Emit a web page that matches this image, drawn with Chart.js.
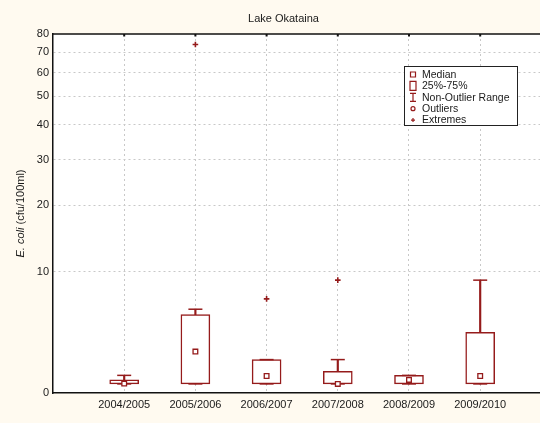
<!DOCTYPE html>
<html>
<head>
<meta charset="utf-8">
<script src="https://cdn.jsdelivr.net/npm/chart.js@4.4.1/dist/chart.umd.min.js"></script>
<style>
  html, body { margin: 0; padding: 0; background: #fffaf0; }
</style>
</head>
<body>
<canvas id="grafico" width="540" height="423"></canvas>
<script>
const seasons = ["2004/2005", "2005/2006", "2006/2007", "2007/2008", "2008/2009", "2009/2010"];
const minimum = [0.5, 0.5, 0.5, 0.5, 0.5, 0.5];
const lowerQuartile = [0.5, 0.5, 0.5, 0.5, 0.5, 0.5];
const median = [0.52, 2.55, 0.96, 0.5, 0.73, 0.96];
const upperQuartile = [0.74, 5.5, 2.0, 1.24, 1.0, 4.0];
const maximum = [1.0, 6.0, 2.0, 2.0, 1.0, 9.0];
// extremes: index of the season and the value
const extremeSeason = [1, 2, 3];
const extremeValue = [74, 7, 9];
const yTicks = [0, 10, 20, 30, 40, 50, 60, 70, 80];

// the value axis is log(x + 8)
const tf = (v) => Math.log10(v + 8);
const pos = seasons.map((s, i) => i + 1);
const red = "#951b1b";
const fontFamily = "'Liberation Sans', Arial, sans-serif";

Chart.defaults.font.family = fontFamily;
Chart.defaults.font.size = 11;
Chart.defaults.color = "#1a1a1a";

const frame = {
  id: "frame",
  beforeDraw(chart) {
    const { ctx, chartArea: a } = chart;
    ctx.save();
    ctx.fillStyle = "#fffaf0";
    ctx.fillRect(0, 0, chart.width, chart.height);
    ctx.fillStyle = "#ffffff";
    ctx.fillRect(a.left, a.top, a.right - a.left, a.bottom - a.top);
    ctx.restore();
  },
  afterDraw(chart) {
    const { ctx, chartArea: a } = chart;
    ctx.save();
    // top frame line with small tick marks
    ctx.strokeStyle = "#111";
    ctx.lineWidth = 1.5;
    ctx.beginPath();
    ctx.moveTo(a.left, a.top);
    ctx.lineTo(a.right, a.top);
    ctx.stroke();
    const xs = chart.scales.x;
    ctx.lineWidth = 2;
    pos.forEach((p) => {
      const px = xs.getPixelForValue(p);
      ctx.beginPath();
      ctx.moveTo(px, a.top);
      ctx.lineTo(px, a.top + 2.5);
      ctx.stroke();
    });

    // title
    ctx.fillStyle = "#1a1a1a";
    ctx.font = "11px " + fontFamily;
    ctx.textAlign = "center";
    ctx.textBaseline = "middle";
    ctx.fillText("Lake Okataina", (a.left + a.right) / 2 - 13, 19);

    // y title, "E. coli" in italics
    ctx.save();
    ctx.translate(21, (a.top + a.bottom) / 2);
    ctx.rotate(-Math.PI / 2);
    const p1 = "E. coli", p2 = " (cfu/100ml)";
    ctx.font = "italic 11px " + fontFamily;
    const w1 = ctx.measureText(p1).width;
    ctx.font = "11px " + fontFamily;
    const w2 = ctx.measureText(p2).width;
    ctx.textAlign = "left";
    ctx.font = "italic 11px " + fontFamily;
    ctx.fillText(p1, -(w1 + w2) / 2, 0);
    ctx.font = "11px " + fontFamily;
    ctx.fillText(p2, -(w1 + w2) / 2 + w1, 0);
    ctx.restore();

    // legend
    const lx = a.left + 351, ly = a.top + 32, lw = 113, lh = 59;
    ctx.fillStyle = "#fff";
    ctx.fillRect(lx, ly, lw, lh);
    ctx.strokeStyle = "#222";
    ctx.lineWidth = 1;
    ctx.strokeRect(lx + 0.5, ly + 0.5, lw, lh);
    const names = ["Median", "25%-75%", "Non-Outlier Range", "Outliers", "Extremes"];
    const mx = lx + 9;
    ctx.font = "10.5px " + fontFamily;
    ctx.textAlign = "left";
    ctx.textBaseline = "middle";
    names.forEach((n, k) => {
      const yy = ly + 8.5 + k * 11.4;
      ctx.fillStyle = "#1a1a1a";
      ctx.fillText(n, lx + 18, yy + 0.5);
      ctx.strokeStyle = red;
      ctx.lineWidth = 1.2;
      ctx.beginPath();
      if (k === 0) {
        ctx.rect(mx - 2.5, yy - 2.5, 5, 5);
      } else if (k === 1) {
        ctx.rect(mx - 3, yy - 4.5, 6, 9);
      } else if (k === 2) {
        ctx.moveTo(mx, yy - 4); ctx.lineTo(mx, yy + 4);
        ctx.moveTo(mx - 3, yy - 4); ctx.lineTo(mx + 3, yy - 4);
        ctx.moveTo(mx - 3, yy + 4); ctx.lineTo(mx + 3, yy + 4);
      } else if (k === 3) {
        ctx.arc(mx, yy, 2, 0, Math.PI * 2);
      } else {
        ctx.moveTo(mx - 2, yy); ctx.lineTo(mx + 2, yy);
        ctx.moveTo(mx, yy - 2); ctx.lineTo(mx, yy + 2);
      }
      ctx.stroke();
    });
    ctx.restore();
  },
};

const ctx = document.getElementById("grafico").getContext("2d");
const grafico = new Chart(ctx, {
  type: "bar",
  data: {
    datasets: [
      {
        type: "scatter",
        label: "Extremes",
        data: extremeSeason.map((s, k) => ({ x: pos[s], y: tf(extremeValue[k]) })),
        pointStyle: "cross",
        pointRadius: 2.8,
        borderColor: red,
        borderWidth: 1.6,
        order: 0,
      },
      {
        type: "scatter",
        label: "Median",
        data: pos.map((x, i) => ({ x: x, y: tf(median[i]) })),
        pointStyle: "rect",
        pointRadius: 3.3,
        backgroundColor: "#fff",
        borderColor: red,
        borderWidth: 1.3,
        order: 1,
      },
      {
        type: "scatter",
        label: "Caps",
        data: pos.map((x, i) => ({ x: x, y: tf(maximum[i]) }))
          .concat(pos.map((x, i) => ({ x: x, y: tf(minimum[i]) }))),
        pointStyle: "line",
        pointRadius: 7,
        borderColor: red,
        borderWidth: 1.5,
        order: 2,
      },
      {
        label: "25%-75%",
        data: pos.map((x, i) => ({ x: x, y: [tf(lowerQuartile[i]), tf(upperQuartile[i])] })),
        backgroundColor: "#fff",
        borderColor: red,
        borderWidth: 1.5,
        borderSkipped: false,
        barThickness: 29,
        grouped: false,
        order: 3,
      },
      {
        label: "Upper whisker",
        data: pos.map((x, i) => ({ x: x, y: [tf(upperQuartile[i]), tf(maximum[i])] })),
        backgroundColor: red,
        borderWidth: 0,
        barThickness: 1.5,
        grouped: false,
        order: 4,
      },
      {
        label: "Lower whisker",
        data: pos.map((x, i) => ({ x: x, y: [tf(minimum[i]), tf(lowerQuartile[i])] })),
        backgroundColor: red,
        borderWidth: 0,
        barThickness: 1.5,
        grouped: false,
        order: 4,
      },
    ],
  },
  options: {
    responsive: false,
    animation: false,
    layout: { autoPadding: false, padding: { top: 34, left: 0, right: 0, bottom: 0 } },
    plugins: {
      legend: { display: false },
      tooltip: { enabled: false },
      title: { display: false },
    },
    scales: {
      x: {
        type: "linear",
        min: 0,
        max: 6.84,
        offset: false,
        afterBuildTicks: (s) => { s.ticks = pos.map((v) => ({ value: v })); },
        afterFit: (s) => { s.height = 30; },
        ticks: {
          autoSkip: false,
          maxRotation: 0,
          padding: 5,
          callback: (v, i) => seasons[i],
        },
        grid: { offset: false, color: "#c8c8c8", lineWidth: 1, drawTicks: false },
        border: { display: true, color: "#111", width: 1.5, dash: [2, 3] },
      },
      y: {
        type: "linear",
        min: tf(0),
        max: tf(80),
        beginAtZero: false,
        afterBuildTicks: (s) => { s.ticks = yTicks.map((v) => ({ value: tf(v) })); },
        afterFit: (s) => { s.width = 53; },
        ticks: {
          autoSkip: false,
          padding: 4,
          callback: (v, i) => String(yTicks[i]),
        },
        grid: {
          color: (c) => (c.index === 0 || c.index === yTicks.length - 1 ? "rgba(0,0,0,0)" : "#c8c8c8"),
          lineWidth: 1,
          drawTicks: false,
        },
        border: { display: true, color: "#111", width: 1.5, dash: [2, 3] },
      },
    },
  },
  plugins: [frame],
});
</script>
</body>
</html>
